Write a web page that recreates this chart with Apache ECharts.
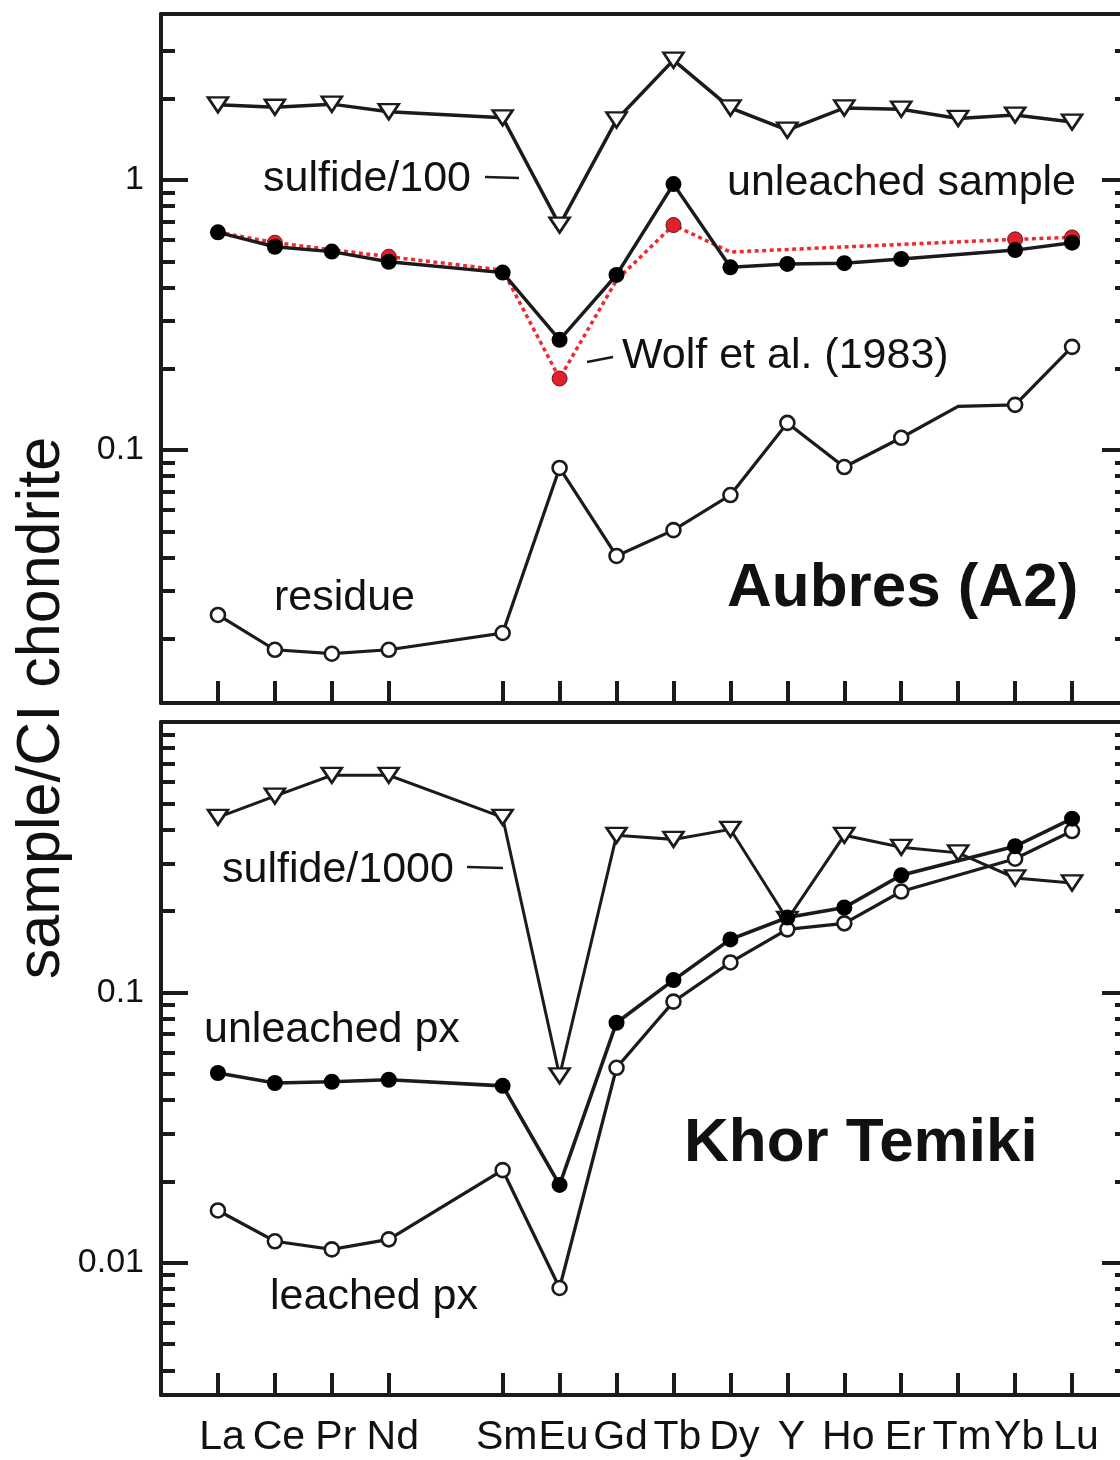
<!DOCTYPE html>
<html><head><meta charset="utf-8">
<script src="https://cdn.jsdelivr.net/npm/echarts@6/dist/echarts.min.js"></script>
<style>html,body{margin:0;padding:0;background:#fff}#c{width:1120px;height:1460px}</style>
</head><body><div id="c"></div>
<script>
// ---------- DATA ----------
const elements = ['La','Ce','Pr','Nd','','Sm','Eu','Gd','Tb','Dy','Y','Ho','Er','Tm','Yb','Lu'];
// Aubres (A2)
const aubresSulfide100 = [1.90,1.86,1.91,1.79,null,1.70,0.681,1.67,2.78,1.85,1.53,1.85,1.83,1.69,1.74,1.64];
const aubresUnleached  = [0.640,0.566,0.543,0.498,null,0.454,0.256,0.445,0.966,0.475,0.489,0.492,0.510,null,0.550,0.586];
const aubresWolf1983   = [0.641,0.586,null,0.520,null,0.464,0.184,0.426,0.681,0.541,null,null,null,null,0.603,0.613];
const aubresResidue    = [0.0245,0.0182,0.0176,0.0182,null,0.0210,0.0858,0.0405,0.0505,0.0681,0.126,0.0865,0.111,0.145,0.147,0.241];
const wolfNoMarker = ['La','Sm','Gd','Dy'];
const residueNoMarker = ['Tm'];
// Khor Temiki
const khorSulfide1000 = [0.444,0.532,0.635,0.635,null,0.444,0.0491,0.381,0.368,0.401,0.186,0.381,0.344,0.328,0.265,0.254];
const khorUnleachedPx = [0.0503,0.0462,0.0467,0.0475,null,0.0451,0.0194,0.0772,0.111,0.157,0.189,0.206,0.271,null,0.347,0.439];
const khorLeachedPx   = [0.0156,0.0120,0.0112,0.0122,null,0.0220,0.00806,0.0526,0.0924,0.129,0.171,0.180,0.236,null,0.312,0.395];
// y tick labels
const topTickLabels = [0.1, 1];
const bottomTickLabels = [0.01, 0.1];
const topRange = [0.01156, 4.12];
const bottomRange = [0.00324, 1.0];

// ---------- BUILD ----------
const INK = '#1b1a1c';
const FONT = "'Liberation Sans', Arial, Helvetica, sans-serif";
const NARROW = "'Liberation Sans Narrow', 'Arial Narrow', 'Liberation Sans', Arial, sans-serif";
function minorTicks(range, maxMinor) {
  const out = [];
  for (let e = -4; e <= 1; e++) {
    for (let m = 2; m <= 9; m++) {
      const v = +(m * Math.pow(10, e)).toPrecision(6);
      if (v > range[0] && v < range[1] && v <= maxMinor) out.push(v);
    }
  }
  return out;
}
const tickIdx = elements.map((e, i) => e ? i : null).filter(v => v !== null);

const grids = [
  {left: 161, top: 14, width: 968, height: 689, outerBoundsMode: 'none', containLabel: false},
  {left: 161, top: 722, width: 968, height: 673, outerBoundsMode: 'none', containLabel: false}
];
const xAxes = [], yAxes = [];
function addAxes(g, range, major, minor, showLabels) {
  xAxes.push({
    type: 'value', gridIndex: g, min: -1, max: 16, position: 'bottom',
    axisLine: {show: true, onZero: false, lineStyle: {color: INK, width: 4}},
    axisTick: {show: true, inside: true, length: 22, customValues: tickIdx, lineStyle: {color: INK, width: 4}},
    axisLabel: {show: showLabels, customValues: tickIdx, formatter: v => elements[Math.round(v)],
      fontSize: 41, fontFamily: NARROW, color: '#111', margin: 22, padding: [0, 0, 0, 8]},
    splitLine: {show: false}
  });
  xAxes.push({
    type: 'value', gridIndex: g, min: -1, max: 16, position: 'top',
    axisLine: {show: true, onZero: false, lineStyle: {color: INK, width: 4}},
    axisTick: {show: false}, axisLabel: {show: false}, splitLine: {show: false}
  });
  const base = {type: 'log', logBase: 10, gridIndex: g, min: range[0], max: range[1], splitLine: {show: false}};
  yAxes.push(Object.assign({}, base, {
    position: 'left',
    axisLine: {show: true, onZero: false, lineStyle: {color: INK, width: 4}},
    axisTick: {show: true, inside: true, length: 27, customValues: major, lineStyle: {color: INK, width: 4}},
    axisLabel: {show: true, customValues: major, formatter: v => String(+v.toPrecision(3)),
      fontSize: 34, fontFamily: FONT, color: '#111', margin: 17}
  }));
  yAxes.push(Object.assign({}, base, {
    position: 'left',
    axisLine: {show: false, onZero: false},
    axisTick: {show: true, inside: true, length: 14, customValues: minor, lineStyle: {color: INK, width: 4}},
    axisLabel: {show: false}
  }));
  yAxes.push(Object.assign({}, base, {
    position: 'right',
    axisLine: {show: true, onZero: false, lineStyle: {color: INK, width: 4}},
    axisTick: {show: true, inside: true, length: 27, customValues: major, lineStyle: {color: INK, width: 4}},
    axisLabel: {show: false}
  }));
  yAxes.push(Object.assign({}, base, {
    position: 'right',
    axisLine: {show: false, onZero: false},
    axisTick: {show: true, inside: true, length: 14, customValues: minor, lineStyle: {color: INK, width: 4}},
    axisLabel: {show: false}
  }));
}
addAxes(0, topRange, topTickLabels, minorTicks(topRange, 3), false);
addAxes(1, bottomRange, bottomTickLabels, minorTicks(bottomRange, 0.9), true);

function pts(vals, noMarker) {
  const out = [];
  elements.forEach((el, i) => {
    if (vals[i] == null) return;
    const d = {value: [i, vals[i]]};
    if (noMarker && noMarker.includes(el)) d.symbol = 'none';
    out.push(d);
  });
  return out;
}
const openCircle = {symbol: 'circle', symbolSize: 14, itemStyle: {color: '#fff', borderColor: INK, borderWidth: 2.6}};
const filledCircle = {symbol: 'circle', symbolSize: 16, itemStyle: {color: '#000', borderColor: '#000', borderWidth: 0}};
const openTri = {symbol: 'triangle', symbolRotate: 180, symbolSize: [20, 15], itemStyle: {color: '#fff', borderColor: INK, borderWidth: 2.6}};
function line(name, g, vals, marker, lw, extra) {
  return Object.assign({
    name, type: 'line', xAxisIndex: g * 2, yAxisIndex: g * 4,
    data: pts(vals, extra && extra.noMarker),
    showSymbol: true, animation: false, silent: true,
    lineStyle: {color: INK, width: lw, join: 'miter', cap: 'butt'}
  }, marker, extra && extra.opts);
}
const series = [
  line('residue', 0, aubresResidue, openCircle, 3.2, {noMarker: residueNoMarker}),
  line('sulfide/100', 0, aubresSulfide100, openTri, 3.5),
  line('Wolf et al. (1983)', 0, aubresWolf1983, {symbol: 'circle', symbolSize: 15, itemStyle: {color: '#e3202a', borderColor: '#5a1a1a', borderWidth: 1}}, 3.5,
    {noMarker: wolfNoMarker, opts: {lineStyle: {color: '#ee2a30', width: 3.5, type: [4, 3.5], cap: 'butt', join: 'miter'}}}),
  line('unleached sample', 0, aubresUnleached, filledCircle, 3.5),
  line('sulfide/1000', 1, khorSulfide1000, openTri, 3),
  line('leached px', 1, khorLeachedPx, openCircle, 3.3),
  line('unleached px', 1, khorUnleachedPx, filledCircle, 3.6)
];

function txt(s, x, y, size, bold) {
  return {type: 'text', x, y, silent: true, z: 100,
    style: {text: s, x: 0, y: 0, fill: '#111', font: (bold ? 'bold ' : '') + size + 'px ' + FONT, textAlign: 'left', textVerticalAlign: 'middle'}};
}
function dash(x1, y1, x2, y2) {
  return {type: 'line', silent: true, z: 100, shape: {x1, y1, x2, y2}, style: {stroke: INK, lineWidth: 2.5}};
}
const graphic = [
  {type: 'text', x: 42, y: 708, rotation: Math.PI / 2, silent: true,
    style: {text: 'sample/CI chondrite', fill: '#111', font: '61px ' + FONT, textAlign: 'center', textVerticalAlign: 'middle'}},
  txt('sulfide/100', 263, 179, 43), dash(485, 177, 519, 178),
  txt('unleached sample', 727, 183, 43),
  txt('Wolf et al. (1983)', 622, 356, 43), dash(587, 362, 613, 357),
  txt('residue', 274, 598, 43),
  txt('Aubres (A2)', 727, 589, 62, true),
  txt('sulfide/1000', 222, 870, 43), dash(467, 867, 503, 868),
  txt('unleached px', 204, 1030, 43),
  txt('Khor Temiki', 684, 1144, 62, true),
  txt('leached px', 270, 1297, 43)
];

const chart = echarts.init(document.getElementById('c'), null, {renderer: 'canvas'});
chart.setOption({
  backgroundColor: '#fff', animation: false,
  grid: grids, xAxis: xAxes, yAxis: yAxes, series, graphic
});
</script></body></html>
